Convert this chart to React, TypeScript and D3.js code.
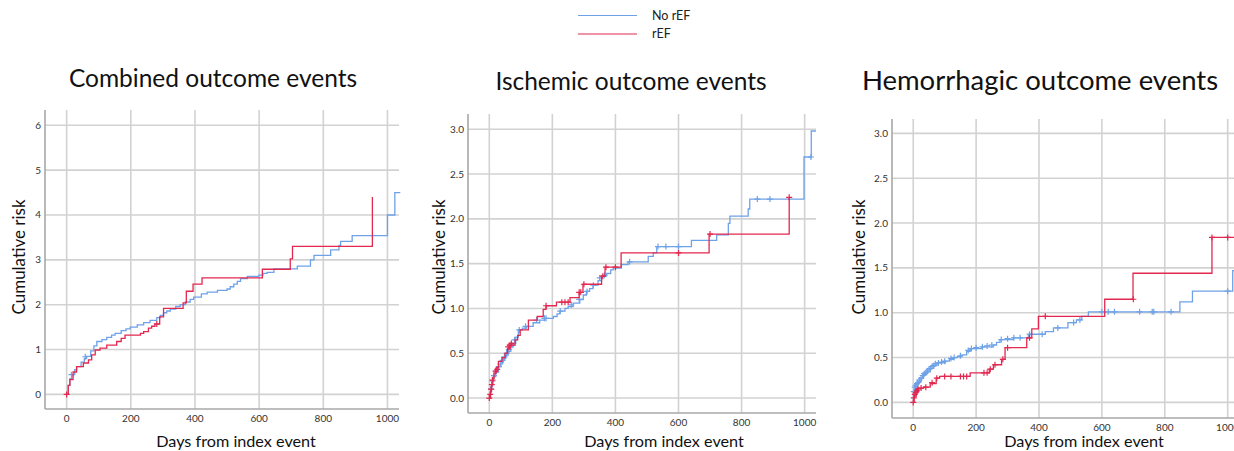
import * as d3 from 'd3';

// [day, cumulative risk] at each step, and censored observations (+)
const combinedNoRef: [number, number][] = [
  [0, 0], [5, 0.2], [10, 0.35], [16, 0.44], [25, 0.55], [31, 0.62], [45, 0.72], [55, 0.8], [62, 0.85],
  [75, 0.97], [85, 1.08], [94, 1.18], [110, 1.22], [125, 1.27], [140, 1.32], [151, 1.36], [170, 1.42],
  [185, 1.46], [198, 1.5], [220, 1.55], [240, 1.6], [260, 1.65], [281, 1.71], [292, 1.76], [302, 1.82],
  [312, 1.86], [323, 1.9], [340, 1.96], [354, 2.0], [370, 2.06], [385, 2.12], [396, 2.17], [420, 2.24],
  [438, 2.28], [470, 2.32], [500, 2.35], [510, 2.4], [521, 2.46], [532, 2.52], [542, 2.58], [563, 2.63],
  [599, 2.66], [612, 2.7], [625, 2.72], [646, 2.8], [719, 2.86], [760, 3.0], [771, 3.1], [823, 3.22],
  [849, 3.32], [854, 3.41], [890, 3.54], [1000, 4.0], [1023, 4.5], [1040, 4.5],
];
const combinedNoRefCensor: [number, number][] = [[15, 0.44], [58, 0.84]];
const combinedRef: [number, number][] = [
  [0, 0], [5, 0.2], [10, 0.33], [20, 0.5], [31, 0.62], [52, 0.7], [68, 0.77], [78, 0.88], [89, 0.99],
  [104, 1.03], [125, 1.1], [156, 1.18], [170, 1.25], [182, 1.32], [230, 1.36], [240, 1.4], [255, 1.48],
  [265, 1.52], [275, 1.57], [290, 1.73], [302, 1.92], [363, 2.04], [373, 2.3], [394, 2.46], [422, 2.6],
  [610, 2.79], [697, 3.02], [704, 3.3], [953, 4.4],
];
const combinedRefCensor: [number, number][] = [[0, 0], [281, 1.57]];

const ischNoRef: [number, number][] = [
  [0, 0], [3, 0.06], [7, 0.13], [10, 0.19], [13, 0.24], [20, 0.29], [29, 0.35], [37, 0.4], [45, 0.44],
  [52, 0.48], [60, 0.52], [68, 0.57], [76, 0.61], [84, 0.68], [92, 0.76], [105, 0.78], [118, 0.8],
  [139, 0.84], [160, 0.87], [176, 0.89], [203, 0.91], [215, 0.94], [224, 0.97], [240, 1.0], [250, 1.02],
  [266, 1.06], [287, 1.1], [298, 1.15], [308, 1.19], [318, 1.22], [329, 1.26], [345, 1.31], [356, 1.36],
  [372, 1.39], [385, 1.43], [393, 1.45], [419, 1.49], [440, 1.52], [504, 1.58], [520, 1.62], [531, 1.69],
  [641, 1.76], [721, 1.82], [758, 1.95], [763, 2.03], [821, 2.11], [826, 2.22], [998, 2.69], [1021, 2.98],
  [1036, 2.98],
];
const ischNoRefCensor: [number, number][] = [
  [5, 0.1], [10, 0.19], [15, 0.25], [22, 0.3], [30, 0.35], [35, 0.38], [42, 0.42], [48, 0.46], [55, 0.5],
  [62, 0.54], [72, 0.59], [80, 0.65], [95, 0.76], [115, 0.8], [150, 0.87], [175, 0.89], [180, 0.89],
  [225, 0.97], [260, 1.04], [285, 1.1], [310, 1.19], [330, 1.26], [350, 1.34], [365, 1.37], [445, 1.52],
  [535, 1.69], [560, 1.69], [600, 1.69], [850, 2.22], [890, 2.22], [1020, 2.69],
];
const ischRef: [number, number][] = [
  [0, 0], [4, 0.08], [7, 0.15], [11, 0.22], [15, 0.28], [22, 0.34], [29, 0.41], [40, 0.45], [50, 0.5],
  [58, 0.55], [66, 0.59], [82, 0.65], [90, 0.7], [98, 0.76], [124, 0.87], [152, 0.91], [171, 0.99],
  [180, 1.03], [213, 1.07], [256, 1.12], [285, 1.18], [297, 1.27], [356, 1.36], [367, 1.46], [418, 1.62],
  [697, 1.83], [951, 2.24],
];
const ischRefCensor: [number, number][] = [
  [0, 0], [3, 0.04], [6, 0.1], [8, 0.15], [10, 0.2], [20, 0.3], [25, 0.32], [60, 0.57], [65, 0.59],
  [70, 0.61], [180, 1.03], [230, 1.07], [240, 1.07], [250, 1.07], [285, 1.18], [290, 1.18], [300, 1.27],
  [360, 1.36], [370, 1.46], [400, 1.46], [600, 1.62], [700, 1.83], [951, 2.24],
];

const hemNoRef: [number, number][] = [
  [0, 0], [1, 0.1], [3, 0.14], [6, 0.18], [10, 0.2], [17, 0.23], [25, 0.27], [33, 0.31], [43, 0.34],
  [54, 0.38], [65, 0.41], [75, 0.44], [102, 0.46], [115, 0.48], [128, 0.5], [140, 0.51], [155, 0.53],
  [170, 0.57], [181, 0.6], [218, 0.62], [255, 0.64], [265, 0.67], [276, 0.7], [318, 0.72], [366, 0.76],
  [420, 0.79], [446, 0.83], [492, 0.89], [519, 0.92], [536, 0.96], [557, 1.01], [848, 1.12], [888, 1.24],
  [1016, 1.47], [1040, 1.47],
];
const hemNoRefCensor: [number, number][] = [
  [2, 0.12], [5, 0.17], [8, 0.19], [12, 0.21], [15, 0.22], [20, 0.25], [25, 0.27], [30, 0.3], [35, 0.32],
  [40, 0.33], [45, 0.35], [50, 0.37], [55, 0.38], [60, 0.4], [65, 0.41], [70, 0.43], [80, 0.44], [90, 0.45],
  [100, 0.46], [120, 0.49], [130, 0.5], [150, 0.52], [175, 0.58], [185, 0.6], [200, 0.61], [220, 0.62],
  [235, 0.63], [250, 0.64], [280, 0.7], [300, 0.71], [320, 0.72], [340, 0.72], [370, 0.76], [410, 0.76],
  [460, 0.83], [510, 0.89], [530, 0.92], [600, 1.01], [620, 1.01], [640, 1.01], [720, 1.01], [760, 1.01],
  [765, 1.01], [820, 1.01], [1000, 1.24],
];
const hemRef: [number, number][] = [
  [0, 0], [3, 0.07], [10, 0.12], [17, 0.16], [33, 0.17], [54, 0.21], [73, 0.27], [84, 0.29], [181, 0.33],
  [242, 0.37], [255, 0.42], [281, 0.48], [292, 0.61], [361, 0.72], [377, 0.82], [398, 0.96], [609, 1.15],
  [699, 1.44], [950, 1.84], [1040, 1.84],
];
const hemRefCensor: [number, number][] = [
  [0, 0], [2, 0.05], [5, 0.09], [8, 0.11], [12, 0.13], [15, 0.15], [25, 0.16], [40, 0.17], [60, 0.22],
  [75, 0.27], [100, 0.29], [120, 0.29], [150, 0.29], [160, 0.29], [170, 0.29], [225, 0.33], [235, 0.33],
  [245, 0.37], [260, 0.42], [285, 0.48], [300, 0.61], [370, 0.72], [420, 0.96], [700, 1.15], [950, 1.84],
  [1000, 1.84],
];

const xTicks = [0, 200, 400, 600, 800, 1000];
const yTicksCombined = [0, 1, 2, 3, 4, 5, 6];
const yTicksHalf = [0, 0.5, 1.0, 1.5, 2.0, 2.5, 3.0];
const seriesNames = ['No rEF', 'rEF'];

const BLUE = '#6ea2e8';
const RED = '#e2284f';
const FONT = 'Lato, "Open Sans", sans-serif';

const panels = [
  {
    title: 'Combined outcome events', titleX: 213, titleY: 87, titleSize: 24.5,
    left: 45, right: 399, top: 110, bottom: 409,
    yMin: -0.325, yMax: 6.34, yTicks: yTicksCombined, yFmt: d3.format('d'),
    yLabelX: 19, xLabelX: 236,
    noRef: combinedNoRef, noRefCensor: combinedNoRefCensor, ref: combinedRef, refCensor: combinedRefCensor,
  },
  {
    title: 'Ischemic outcome events', titleX: 631, titleY: 90, titleSize: 24.5,
    left: 468, right: 816, top: 114, bottom: 413,
    yMin: -0.167, yMax: 3.17, yTicks: yTicksHalf, yFmt: d3.format('.1f'),
    yLabelX: 439, xLabelX: 664,
    noRef: ischNoRef, noRefCensor: ischNoRefCensor, ref: ischRef, refCensor: ischRefCensor,
  },
  {
    title: 'Hemorrhagic outcome events', titleX: 1040, titleY: 90, titleSize: 27.5,
    left: 892, right: 1239, top: 119, bottom: 418,
    yMin: -0.174, yMax: 3.16, yTicks: yTicksHalf, yFmt: d3.format('.1f'),
    yLabelX: 859, xLabelX: 1084,
    noRef: hemNoRef, noRefCensor: hemNoRefCensor, ref: hemRef, refCensor: hemRefCensor,
  },
];

function Panel({ p }: { p: (typeof panels)[number] }) {
  const x = d3.scaleLinear().domain([-67.5, 1036]).range([p.left, p.right]);
  const y = d3.scaleLinear().domain([p.yMin, p.yMax]).range([p.bottom, p.top]);
  const line = d3.line<[number, number]>()
    .x(d => x(d[0]))
    .y(d => y(d[1]))
    .curve(d3.curveStepAfter);
  const cross = (c: [number, number]) => `M${x(c[0]) - 3},${y(c[1])}h6M${x(c[0])},${y(c[1]) - 3}v6`;

  return (
    <g>
      <text x={p.titleX} y={p.titleY} textAnchor="middle" fontSize={p.titleSize} fill="#111" fontFamily={FONT}>
        {p.title}
      </text>
      {xTicks.map(t => (
        <line key={'gx' + t} x1={x(t)} x2={x(t)} y1={p.top} y2={p.bottom} stroke="#d2d2d2" strokeWidth={1.6} />
      ))}
      {p.yTicks.map(t => (
        <line key={'gy' + t} x1={p.left} x2={p.right} y1={y(t)} y2={y(t)} stroke="#d2d2d2" strokeWidth={1.6} />
      ))}
      <line x1={p.left} x2={p.left} y1={p.top} y2={p.bottom} stroke="#a8a8a8" strokeWidth={1.6} />
      <line x1={p.left} x2={p.right} y1={p.bottom} y2={p.bottom} stroke="#a8a8a8" strokeWidth={1.6} />
      {p.yTicks.map(t => (
        <text key={'ty' + t} x={p.left - 4} y={y(t)} dy="0.35em" textAnchor="end" fontSize={10} fill="#333"
          fontFamily={FONT}>
          {p.yFmt(t)}
        </text>
      ))}
      {xTicks.map(t => (
        <text key={'tx' + t} x={x(t)} y={p.bottom + 12.5} textAnchor="middle" fontSize={10} fill="#333"
          fontFamily={FONT}>
          {t}
        </text>
      ))}
      <path d={line(p.noRef) ?? ''} fill="none" stroke={BLUE} strokeWidth={1.3} />
      <path d={p.noRefCensor.map(cross).join('')} fill="none" stroke={BLUE} strokeWidth={1.2} />
      <path d={line(p.ref) ?? ''} fill="none" stroke={RED} strokeWidth={1.3} />
      <path d={p.refCensor.map(cross).join('')} fill="none" stroke={RED} strokeWidth={1.2} />
      <text transform={`translate(${p.yLabelX},257) rotate(-90)`} textAnchor="middle" dy="0.35em" fontSize={17}
        fill="#111" fontFamily={FONT}>
        Cumulative risk
      </text>
      <text x={p.xLabelX} y={447} textAnchor="middle" fontSize={16.2} fill="#111" fontFamily={FONT}>
        Days from index event
      </text>
    </g>
  );
}

export default function App() {
  const colors = [BLUE, RED];
  return (
    <svg width={1234} height={451} style={{ position: 'absolute', left: 0, top: 0, background: '#fff' }}>
      <rect width={1234} height={451} fill="#fff" />
      {seriesNames.map((name, i) => (
        <g key={name}>
          <line x1={578} x2={637} y1={15.5 + i * 18.5} y2={15.5 + i * 18.5} stroke={colors[i]} strokeWidth={1.2} />
          <text x={652} y={15.5 + i * 18.5} dy="0.35em" fontSize={12.5} fill="#222" fontFamily={FONT}>
            {name}
          </text>
        </g>
      ))}
      {panels.map(p => (
        <Panel key={p.title} p={p} />
      ))}
    </svg>
  );
}
